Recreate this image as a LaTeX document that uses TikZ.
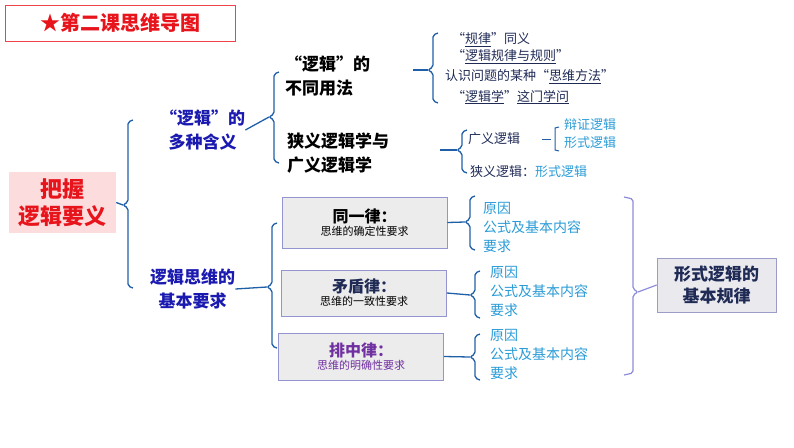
\documentclass[tikz,border=0pt]{standalone}
\usepackage{fontspec}
\setmainfont{Noto Sans CJK SC}
\usetikzlibrary{calc}
\definecolor{brk}{HTML}{1F5FA8}
\definecolor{ttl}{HTML}{E8141C}
\definecolor{blu}{HTML}{1A1AB0}
\definecolor{dk}{HTML}{1F2A55}
\definecolor{cy}{HTML}{2A9BD6}
\definecolor{pur}{HTML}{7030A0}
\newcommand{\brak}[5]{% x top bot mid color
  \draw[#5,line width=1.3pt,rounded corners=2pt] (#1+5,#2)--(#1,#2+2)--(#1,#4-3)--(#1-5,#4)--(#1,#4+3)--(#1,#3-2)--(#1+5,#3);}
\begin{document}
\begin{tikzpicture}[x=1pt,y=-1pt,
  lbl/.style={inner sep=0pt,align=left,anchor=west,font=\fontsize{17}{24}\selectfont\bfseries},
  sm/.style={inner sep=0pt,anchor=west,font=\fontsize{13}{19}\selectfont},
  law/.style={draw=gray!60!blue!60,fill=gray!15,line width=0.8pt,minimum width=165pt,align=center,inner sep=2pt},
  stem/.style={brk,line width=1.3pt}]
\useasboundingbox (0,0) rectangle (794,447);
% title
\node[draw=ttl!80,line width=0.8pt,minimum width=230pt,minimum height=36pt,text=ttl,font=\fontsize{20}{24}\selectfont\bfseries] (title) at (120,23) {★第二课思维导图};
% root
\node[fill=ttl!15,text=ttl,minimum width=107pt,minimum height=61pt,align=center,inner sep=0pt,font=\fontsize{22}{27}\selectfont\bfseries] (root) at (62.5,202.5) {把握\\逻辑要义};
\brak{128}{120}{288}{205}{brk}
\draw[stem] (root.east) -- (123,205);
% level 1
\node[lbl,text=blu,align=center] (m1) at (160,130) {“逻辑”的\\多种含义};
\node[lbl,text=blu,align=center] (m2) at (150,289) {逻辑思维的\\基本要求};
\brak{274}{72}{163}{117}{brk}
\draw[stem] (m1.east) -- (269,117);
\node[lbl] (u1) at (285,76) {“逻辑”的\\不同用法};
\node[lbl] (u2) at (287,153) {狭义逻辑学与\\广义逻辑学};
\brak{433}{33}{103}{70}{brk}
\draw[stem] (413,70) coordinate (s3) -- (428,70);
\node[sm,text=dk] (k1) at (452,40) {“\underline{规律}”同义};
\node[sm,text=dk] (k2) at (452,57) {“\underline{逻辑规律与规则}”};
\node[sm,text=dk] (k3) at (445,77) {认识问题的某种“\underline{思维方法}”};
\node[sm,text=dk] (k4) at (452,97) {“\underline{逻辑学}”\underline{这门学问}};
\brak{462}{130}{173}{150}{brk}
\draw[stem] (440,150) coordinate (s4) -- (457,150);
\node[sm,text=dk] (g1) at (468,139) {广义逻辑};
\draw[stem,line width=1pt] (542,139) -- (551,139);
\draw[brk,line width=1pt] (559,127)--(555,128)--(555,150)--(559,151);
\node[sm,text=cy] (g2) at (564,125) {辩证逻辑};
\node[sm,text=cy] (g3) at (564,143) {形式逻辑};
\node[sm,text=dk] (g4) at (470,172) {狭义逻辑：\textcolor{cy}{形式逻辑}};
% laws
\brak{272}{223}{348}{287}{brk}
\draw[stem] (m2.east) -- (267,287);
\node[law,minimum height=51pt] (l1) at (364.5,222.5) {{\fontsize{16}{20}\selectfont\bfseries 同一律：}\\[1pt]{\fontsize{11}{14}\selectfont 思维的确定性要求}};
\node[law,minimum height=46pt] (l2) at (364,293) {{\fontsize{16}{20}\selectfont\bfseries\color{dk} 矛盾律：}\\[1pt]{\fontsize{11}{14}\selectfont 思维的一致性要求}};
\node[law,minimum height=47pt,text=pur] (l3) at (361,356.5) {{\fontsize{16}{20}\selectfont\bfseries 排中律：}\\[1pt]{\fontsize{11}{14}\selectfont 思维的明确性要求}};
\brak{470}{196}{250}{222}{brk}
\draw[stem] (l1.east) -- (465,222);
\brak{475}{271}{318}{295}{brk}
\draw[stem] (l2.east) -- (470,295);
\brak{475}{334}{380}{357}{brk}
\draw[stem] (l3.east) -- (470,357);
\foreach \x/\y/\n in {483/208/a,490/272/b,490/335/c}{
  \node[sm,text=cy,font=\fontsize{14}{18}\selectfont] (r1\n) at (\x,\y) {原因};
  \node[sm,text=cy,font=\fontsize{14}{18}\selectfont] (r2\n) at (\x,\y+19) {公式及基本内容};
  \node[sm,text=cy,font=\fontsize{14}{18}\selectfont] (r3\n) at (\x,\y+38) {要求};
}
% right
\draw[gray!50!blue!60,line width=1.2pt,rounded corners=2pt] (624,197)--(633,199)--(633,289)--(638,292)--(633,295)--(633,373)--(624,375);
\node[draw=blue!30!gray!60,fill=blue!10!gray!15,line width=0.8pt,minimum width=119pt,minimum height=54pt,align=center,inner sep=0pt,text=dk,font=\fontsize{17}{22}\selectfont\bfseries] (fb) at (716.5,285) {形式逻辑的\\基本规律};
\draw[gray!50!blue!60,line width=1.2pt] (638,292) -- (fb.west);
\end{tikzpicture}
\end{document}
